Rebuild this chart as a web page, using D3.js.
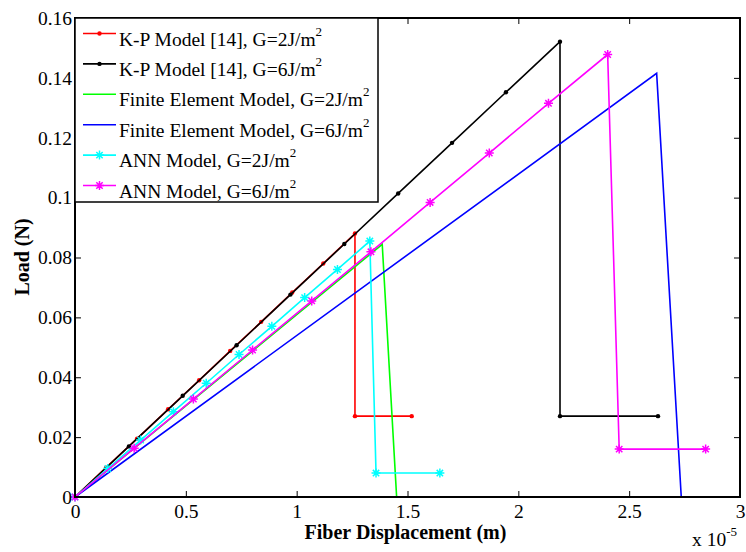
<!DOCTYPE html>
<html>
<head>
<meta charset="utf-8">
<script src="https://cdn.jsdelivr.net/npm/d3@7"></script>
<style>
  body { margin: 0; background: #fff; }
  text { font-family: "Liberation Serif", "Times New Roman", serif; }
</style>
</head>
<body>
<div id="chart"></div>
<script>
// Displacement in units of 1e-5 m, load in N.
const kp2X = [0, 0.14, 0.28, 0.42, 0.56, 0.70, 0.84, 0.98, 1.12, 1.263, 1.263, 1.519];
const kp2Y = [0, 0.0098, 0.0195, 0.0293, 0.039, 0.0488, 0.0585, 0.0683, 0.078, 0.088, 0.027, 0.027];

const kp6X = [0, 0.243, 0.486, 0.729, 0.972, 1.215, 1.458, 1.701, 1.944, 2.188, 2.188, 2.63];
const kp6Y = [0, 0.0169, 0.0338, 0.0507, 0.0676, 0.0845, 0.1014, 0.1183, 0.1352, 0.1521, 0.027, 0.027];

const fe2X = [0, 1.386, 1.451, 1.767];
const fe2Y = [0, 0.0844, 0, 0];

const fe6X = [0, 2.624, 2.735, 3.0];
const fe6Y = [0, 0.1415, 0, 0];

const ann2X = [0, 0.148, 0.296, 0.444, 0.592, 0.74, 0.888, 1.036, 1.184, 1.33, 1.358, 1.646];
const ann2Y = [0, 0.0095, 0.019, 0.0285, 0.038, 0.0476, 0.057, 0.0666, 0.076, 0.0855, 0.008, 0.008];

const ann6X = [0, 0.267, 0.534, 0.801, 1.068, 1.335, 1.602, 1.869, 2.136, 2.403, 2.455, 2.845];
const ann6Y = [0, 0.0163, 0.0327, 0.0491, 0.0655, 0.0819, 0.0984, 0.1149, 0.1315, 0.1478, 0.016, 0.016];

const xTicks = [0, 0.5, 1, 1.5, 2, 2.5, 3];
const yTicks = [0, 0.02, 0.04, 0.06, 0.08, 0.1, 0.12, 0.14, 0.16];

const series = [
  { name: 'K-P Model [14], G=2J/m', xs: kp2X, ys: kp2Y, color: '#ff0000', marker: 'dot' },
  { name: 'K-P Model [14], G=6J/m', xs: kp6X, ys: kp6Y, color: '#000000', marker: 'dot' },
  { name: 'Finite Element Model, G=2J/m', xs: fe2X, ys: fe2Y, color: '#00ff00', marker: null },
  { name: 'Finite Element Model, G=6J/m', xs: fe6X, ys: fe6Y, color: '#0000ff', marker: null },
  { name: 'ANN Model, G=2J/m', xs: ann2X, ys: ann2Y, color: '#00ffff', marker: 'star' },
  { name: 'ANN Model, G=6J/m', xs: ann6X, ys: ann6Y, color: '#ff00ff', marker: 'star' },
];

const W = 746, H = 552;
const margin = { top: 18, right: 6, bottom: 55, left: 75 };
const width = W - margin.left - margin.right,
  height = H - margin.top - margin.bottom;

const fontSize = 19.5;
const serif = '"Liberation Serif", "Times New Roman", serif';

const svg = d3
  .select('#chart')
  .append('svg')
  .attr('width', W)
  .attr('height', H);

const g = svg.append('g').attr('transform', `translate(${margin.left},${margin.top})`);

const x = d3.scaleLinear().domain([0, 3]).range([0, width]);
const y = d3.scaleLinear().domain([0, 0.16]).range([height, 0]);

// Series lines and markers
const line = d3.line().x(d => x(d[0])).y(d => y(d[1]));

// asterisk like MATLAB '*'
function starPath(cx, cy, s) {
  const d = s * 0.707;
  return `M${cx - s},${cy}L${cx + s},${cy}M${cx},${cy - s}L${cx},${cy + s}` +
    `M${cx - d},${cy - d}L${cx + d},${cy + d}M${cx - d},${cy + d}L${cx + d},${cy - d}`;
}

function drawMarker(sel, m, cx, cy, color) {
  if (m === 'dot') {
    sel.append('circle').attr('cx', cx).attr('cy', cy).attr('r', 2.2).attr('fill', color);
  } else if (m === 'star') {
    sel.append('path').attr('d', starPath(cx, cy, 4.5))
      .attr('stroke', color).attr('stroke-width', 1.5).attr('fill', 'none');
  }
}

series.forEach(s => {
  const pts = s.xs.map((v, i) => [v, s.ys[i]]);
  const sg = g.append('g');
  sg.append('path')
    .datum(pts)
    .attr('d', line)
    .attr('fill', 'none')
    .attr('stroke', s.color)
    .attr('stroke-width', 1.6);
  if (s.marker) pts.forEach(p => drawMarker(sg, s.marker, x(p[0]), y(p[1]), s.color));
});

// Axes (MATLAB box style, inward ticks)
const tickLen = 6;
const axB = g.append('g').attr('transform', `translate(0,${height})`)
  .call(d3.axisBottom(x).tickValues(xTicks).tickSizeInner(-tickLen).tickSizeOuter(0).tickPadding(8).tickFormat(d3.format('')));
const axT = g.append('g')
  .call(d3.axisTop(x).tickValues(xTicks).tickSizeInner(-tickLen).tickSizeOuter(0).tickFormat(''));
const axL = g.append('g')
  .call(d3.axisLeft(y).tickValues(yTicks).tickSizeInner(-tickLen).tickSizeOuter(0).tickPadding(3).tickFormat(d3.format('')));
const axR = g.append('g').attr('transform', `translate(${width},0)`)
  .call(d3.axisRight(y).tickValues(yTicks).tickSizeInner(-tickLen).tickSizeOuter(0).tickFormat(''));

[axB, axT, axL, axR].forEach(a => {
  a.attr('font-family', serif);
  a.select('.domain').remove();
  a.selectAll('line').attr('stroke', '#000').attr('stroke-width', 1);
  a.selectAll('text')
    .style('font-family', serif)
    .attr('font-size', fontSize)
    .attr('fill', '#000');
});
axB.selectAll('text').attr('dy', '0.68em');

g.append('rect')
  .attr('width', width).attr('height', height)
  .attr('fill', 'none').attr('stroke', '#000').attr('stroke-width', 2);

// Axis titles
svg.append('text')
  .attr('x', margin.left + width / 2 - 2)
  .attr('y', 539)
  .attr('text-anchor', 'middle')
  .attr('font-weight', 'bold')
  .attr('font-size', 20)
  .text('Fiber Displacement (m)');

svg.append('text')
  .attr('transform', `translate(29,257) rotate(-90)`)
  .attr('text-anchor', 'middle')
  .attr('font-weight', 'bold')
  .attr('font-size', 20)
  .text('Load (N)');

const ex = svg.append('text').attr('x', 692).attr('y', 546).attr('font-size', fontSize);
ex.append('tspan').text('x 10');
ex.append('tspan').attr('dy', -10).attr('font-size', 13).text('-5');

// Legend
const lg = g.append('g');
lg.append('rect')
  .attr('x', 0).attr('y', 0).attr('width', 303).attr('height', 184)
  .attr('fill', '#fff').attr('stroke', '#000').attr('stroke-width', 1.5);

series.forEach((s, i) => {
  const yy = 15.5 + i * 30.4;
  const row = lg.append('g');
  row.append('line').attr('x1', 8).attr('x2', 41).attr('y1', yy).attr('y2', yy)
    .attr('stroke', s.color).attr('stroke-width', 1.6);
  if (s.marker) drawMarker(row, s.marker, 24.5, yy, s.color);
  const t = row.append('text').attr('x', 44).attr('y', yy + 12).attr('font-size', fontSize).attr('fill', '#000');
  t.append('tspan').text(s.name);
  t.append('tspan').attr('dy', -10).attr('font-size', 13).text('2');
});
</script>
</body>
</html>
